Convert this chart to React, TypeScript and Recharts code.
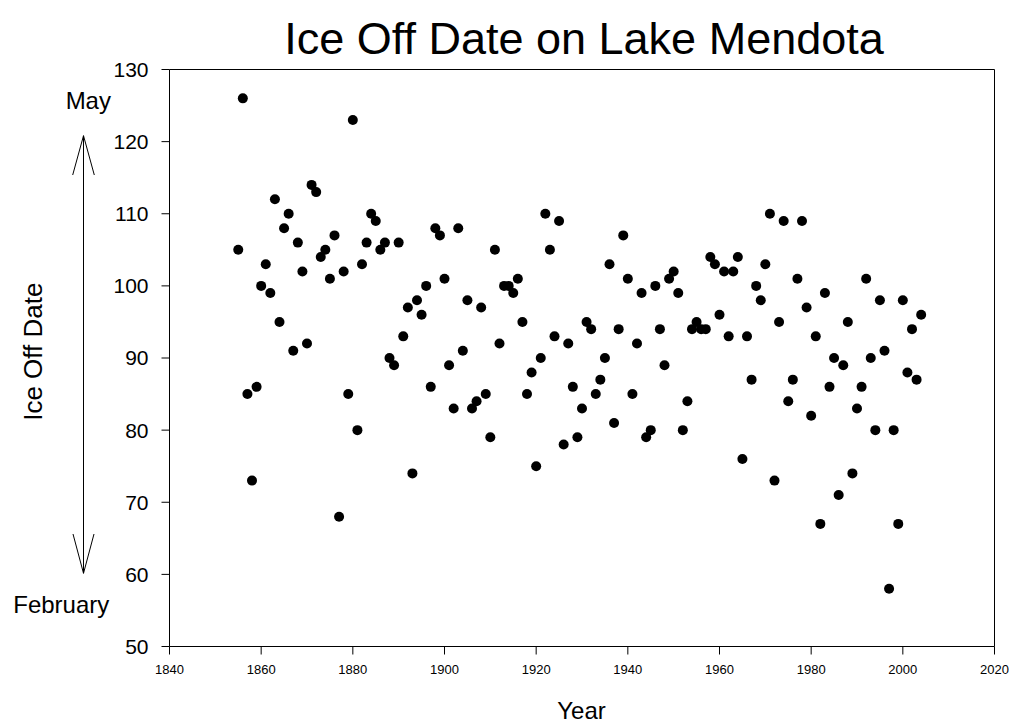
import { ScatterChart, Scatter, XAxis, YAxis, ReferenceLine } from 'recharts';

// ice-off day of year
const years = [
  1855, 1856, 1857, 1858, 1859, 1860, 1861, 1862, 1863, 1864,
  1865, 1866, 1867, 1868, 1869, 1870, 1871, 1872, 1873, 1874,
  1875, 1876, 1877, 1878, 1879, 1880, 1881, 1882, 1883, 1884,
  1885, 1886, 1887, 1888, 1889, 1890, 1891, 1892, 1893, 1894,
  1895, 1896, 1897, 1898, 1899, 1900, 1901, 1902, 1903, 1904,
  1905, 1906, 1907, 1908, 1909, 1910, 1911, 1912, 1913, 1914,
  1915, 1916, 1917, 1918, 1919, 1920, 1921, 1922, 1923, 1924,
  1925, 1926, 1927, 1928, 1929, 1930, 1931, 1932, 1933, 1934,
  1935, 1936, 1937, 1938, 1939, 1940, 1941, 1942, 1943, 1944,
  1945, 1946, 1947, 1948, 1949, 1950, 1951, 1952, 1953, 1954,
  1955, 1956, 1957, 1958, 1959, 1960, 1961, 1962, 1963, 1964,
  1965, 1966, 1967, 1968, 1969, 1970, 1971, 1972, 1973, 1974,
  1975, 1976, 1977, 1978, 1979, 1980, 1981, 1982, 1983, 1984,
  1985, 1986, 1987, 1988, 1989, 1990, 1991, 1992, 1993, 1994,
  1995, 1996, 1997, 1998, 1999, 2000, 2001, 2002, 2003, 2004,
];

const iceOffDays = [
  105, 126, 85, 73, 86, 100, 103, 99, 112, 95,
  108, 110, 91, 106, 102, 92, 114, 113, 104, 105,
  101, 107, 68, 102, 85, 123, 80, 103, 106, 110,
  109, 105, 106, 90, 89, 106, 93, 97, 74, 98,
  96, 100, 86, 108, 107, 101, 89, 83, 108, 91,
  98, 83, 84, 97, 85, 79, 105, 92, 100, 100,
  99, 101, 95, 85, 88, 75, 90, 110, 105, 93,
  109, 78, 92, 86, 79, 83, 95, 94, 85, 87,
  90, 103, 81, 94, 107, 101, 85, 92, 99, 79,
  80, 100, 94, 89, 101, 102, 99, 80, 84, 94,
  95, 94, 94, 104, 103, 96, 102, 93, 102, 104,
  76, 93, 87, 100, 98, 103, 110, 73, 95, 109,
  84, 87, 101, 109, 97, 82, 93, 67, 99, 86,
  90, 71, 89, 95, 74, 83, 86, 101, 90, 80,
  98, 91, 58, 80, 67, 98, 88, 94, 87, 96,
];

const yearTicks = [1840, 1860, 1880, 1900, 1920, 1940, 1960, 1980, 2000, 2020];
const dayTicks = [50, 60, 70, 80, 90, 100, 110, 120, 130];

const data = years.map((year, i) => ({ year, day: iceOffDays[i] }));

const FONT = '"Liberation Sans", Arial, Helvetica, sans-serif';

function Dot(props: any) {
  const { cx, cy } = props;
  return <circle cx={cx} cy={cy} r={5} fill="#000" />;
}

export default function App() {
  return (
    <div
      style={{
        position: 'absolute',
        left: 0,
        top: 0,
        width: 1009,
        height: 726,
        background: '#fff',
        fontFamily: FONT,
      }}
    >
      <ScatterChart
        width={1009}
        height={726}
        margin={{ top: 69.5, right: 14.5, bottom: 49.5, left: 109.5 }}
      >
        <XAxis
          type="number"
          dataKey="year"
          domain={[1840, 2020]}
          ticks={yearTicks}
          height={30}
          tickSize={8}
          tickMargin={10}
          axisLine={{ stroke: '#000' }}
          tickLine={{ stroke: '#000' }}
          tick={{ fontSize: 13, fill: '#000', fontFamily: FONT }}
        />
        <YAxis
          type="number"
          dataKey="day"
          domain={[50, 130]}
          ticks={dayTicks}
          width={60}
          tickSize={8}
          tickMargin={13}
          axisLine={{ stroke: '#000' }}
          tickLine={{ stroke: '#000' }}
          tick={{ fontSize: 21, fill: '#000', fontFamily: FONT }}
        />
        <ReferenceLine y={130} stroke="#000" />
        <ReferenceLine x={2020} stroke="#000" />
        <Scatter data={data} shape={<Dot />} isAnimationActive={false} />
      </ScatterChart>

      {/* title, axis titles and the May/February arrow */}
      <svg
        width={1009}
        height={726}
        style={{ position: 'absolute', left: 0, top: 0, pointerEvents: 'none' }}
        fontFamily={FONT}
      >
        <text x={584} y={54} textAnchor="middle" fontSize={45} fill="#000">
          Ice Off Date on Lake Mendota
        </text>
        <text x={581.5} y={719} textAnchor="middle" fontSize={24} fill="#000">
          Year
        </text>
        <text
          x={42}
          y={351.7}
          textAnchor="middle"
          fontSize={26}
          fill="#000"
          transform="rotate(-90, 42, 351.7)"
        >
          Ice Off Date
        </text>
        <text x={88.3} y={109.3} textAnchor="middle" fontSize={24} fill="#000">
          May
        </text>
        <text x={61.3} y={613.3} textAnchor="middle" fontSize={24} fill="#000">
          February
        </text>
        <g stroke="#000" strokeWidth={1} fill="none">
          <line x1={83.5} y1={135.7} x2={83.5} y2={573.3} />
          <polyline points="72.7,175 83.5,135.7 94.3,175" />
          <polyline points="73,534 83.5,573.3 94,534" />
        </g>
      </svg>
    </div>
  );
}
